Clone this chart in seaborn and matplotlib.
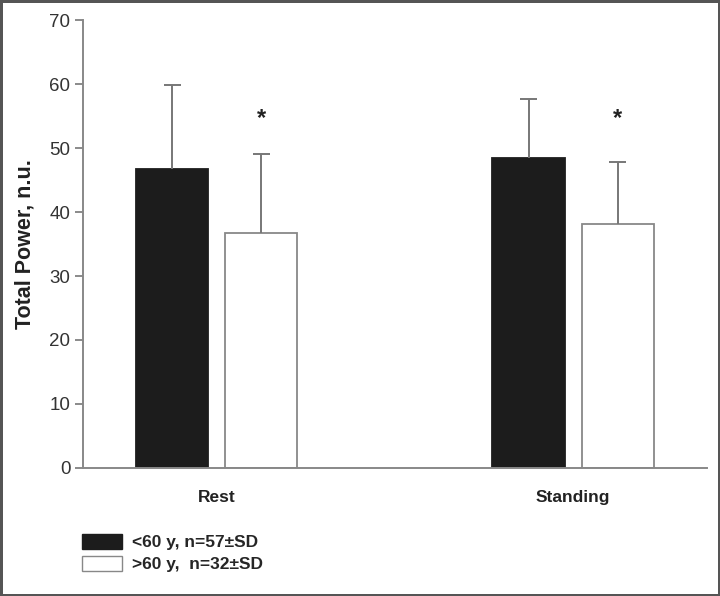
import matplotlib

matplotlib.use("Agg", force=True)
import matplotlib.pyplot as plt
import pandas as pd
import seaborn as sns
from matplotlib.patches import Patch

CONDITIONS = ["Rest", "Standing"]
GROUPS = ["<60 y, n=57\u00b1SD", ">60 y,  n=32\u00b1SD"]
MEAN_YOUNG = [46.7, 48.5]
MEAN_OLD = [36.7, 38.2]
SD_YOUNG = [13.1, 9.2]
SD_OLD = [12.4, 9.6]
STAR_Y = [54.7, 54.7]
Y_TICKS = [0, 10, 20, 30, 40, 50, 60, 70]


def main() -> None:
    sns.set_theme(style="white")
    plt.rcParams["font.family"] = ["Liberation Sans", "DejaVu Sans"]

    df = pd.DataFrame({
        "condition": CONDITIONS * 2,
        "group": [GROUPS[0]] * 2 + [GROUPS[1]] * 2,
        "value": MEAN_YOUNG + MEAN_OLD,
        "sd": SD_YOUNG + SD_OLD,
    })

    fig = plt.figure(figsize=(7.2, 5.96), dpi=100)
    fig.patch.set_edgecolor("#555555")
    fig.patch.set_linewidth(2.5)
    ax = fig.add_axes([0.115, 0.215, 0.867, 0.751])

    sns.barplot(
        data=df, x="condition", y="value", hue="group", order=CONDITIONS, hue_order=GROUPS,
        palette=["#1c1c1c", "white"], width=0.5, gap=0.19, errorbar=None, legend=False, ax=ax,
    )

    # bars come in hue order: young Rest, young Standing, old Rest, old Standing
    cap = 0.024
    for i, patch in enumerate(ax.patches):
        old = i >= 2
        patch.set_edgecolor("#888888" if old else "#1c1c1c")
        patch.set_linewidth(1.3)
        x = patch.get_x() + patch.get_width() / 2
        h = patch.get_height()
        top = h + df["sd"].iloc[i]
        ax.vlines(x, h, top, color="#777777", lw=1.4, zorder=1)
        ax.hlines(top, x - cap, x + cap, color="#777777", lw=1.4, zorder=1)
        if old:
            ax.text(x, STAR_Y[i - 2], "*", ha="center", va="center", fontsize=17, fontweight="bold", color="#222222")

    ax.set_ylim(0, 70)
    ax.set_xlim(-0.376, 1.376)
    ax.set_yticks(Y_TICKS)
    ax.tick_params(axis="y", direction="out", length=6, width=1.2, color="#777777",
                   labelsize=13.5, labelcolor="#333333", left=True, pad=3)
    ax.tick_params(axis="x", length=0, labelsize=12.5, pad=16)
    for lab in ax.get_xticklabels():
        lab.set_fontweight("bold")
        lab.set_color("#222222")
    ax.set_xlabel("")
    ax.set_ylabel("Total Power, n.u.", fontsize=15.5, fontweight="bold", color="#222222", labelpad=10)
    sns.despine(ax=ax)
    for side in ["left", "bottom"]:
        ax.spines[side].set_color("#888888")
        ax.spines[side].set_linewidth(1.4)

    handles = [
        Patch(facecolor="#1c1c1c", edgecolor="#1c1c1c", label=GROUPS[0]),
        Patch(facecolor="white", edgecolor="#888888", label=GROUPS[1]),
    ]
    fig.legend(handles=handles, loc="upper left", bbox_to_anchor=(0.114, 0.104), frameon=False,
               prop={"weight": "bold", "size": 12.5}, handlelength=2.3, handleheight=0.95,
               handletextpad=0.55, labelspacing=0.3, borderaxespad=0, borderpad=0)

    fig.savefig("out.png", dpi=100, edgecolor=fig.get_edgecolor())
    plt.close(fig)


if __name__ == "__main__":
    main()
